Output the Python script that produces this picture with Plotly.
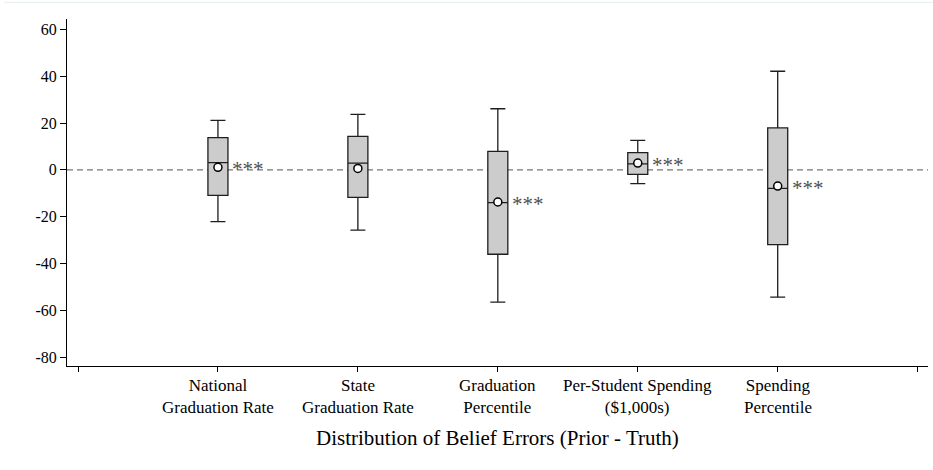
import plotly.graph_objects as go

categories = ["National<br>Graduation Rate", "State<br>Graduation Rate", "Graduation<br>Percentile",
              "Per-Student Spending<br>($1,000s)", "Spending<br>Percentile"]
positions = [1, 2, 3, 4, 5]
whisker_low = [-22.1, -25.7, -56.4, -5.9, -54.3]
q1 = [-10.9, -11.7, -36.0, -1.9, -31.9]
median = [3.1, 2.9, -14.0, 2.6, -7.9]
q3 = [13.8, 14.3, 7.9, 7.4, 17.9]
whisker_high = [21.1, 23.7, 26.1, 12.6, 42.1]
means = [1.1, 0.6, -13.7, 2.9, -6.9]
stars = ["***", "", "***", "***", "***"]

y_tickvals = [-80, -60, -40, -20, 0, 20, 40, 60]
y_ticktext = ["-80", "-60", "-40", "-20", "0", "20", "40", "60"]
x_title = "Distribution of Belief Errors (Prior - Truth)"

FONT = "Liberation Serif, Times New Roman, serif"
BOXW = 0.143

fig = go.Figure()
fig.add_trace(go.Box(
    x=positions, q1=q1, median=median, q3=q3,
    lowerfence=whisker_low, upperfence=whisker_high,
    width=BOXW, whiskerwidth=0.75, boxpoints=False,
    fillcolor="#cccccc", line=dict(color="#1e1e1e", width=1.3),
    showlegend=False, hoverinfo="skip",
))
fig.add_trace(go.Scatter(
    x=positions, y=means, mode="markers",
    marker=dict(symbol="circle", size=8, color="white", line=dict(color="black", width=1.5)),
    showlegend=False, hoverinfo="skip",
))

for p, m, s in zip(positions, means, stars):
    if s:
        fig.add_annotation(x=p + BOXW / 2, y=m, text=s, showarrow=False,
                           xanchor="left", yanchor="middle", xshift=2, yshift=-2,
                           font=dict(family=FONT, size=21, color="#505050"))

# category labels under the ticks
for p, lab in zip(positions, categories):
    fig.add_annotation(x=p, xref="x", y=0, yref="paper", text=lab, showarrow=False,
                       xanchor="center", yanchor="middle", yshift=-30, align="center",
                       font=dict(family=FONT, size=17, color="black"))

fig.add_annotation(x=0.5, xref="paper", y=0, yref="paper", text=x_title, showarrow=False,
                   xanchor="center", yanchor="middle", yshift=-72,
                   font=dict(family=FONT, size=21, color="black"))

fig.add_shape(type="line", xref="paper", yref="y", x0=0, x1=1, y0=0, y1=0,
              line=dict(color="#777777", width=1.2, dash="6px,4px"), layer="below")
fig.add_shape(type="line", xref="paper", yref="paper",
              x0=(4 - 67) / 861, x1=(933 - 67) / 861,
              y0=1 + (19 - 2.3) / 347, y1=1 + (19 - 2.3) / 347,
              line=dict(color="#e6eeec", width=1))

fig.update_layout(
    width=933, height=470,
    margin=dict(l=67, r=5, t=19, b=104),
    plot_bgcolor="white", paper_bgcolor="white",
    font=dict(family=FONT, size=16, color="black"),
)
fig.update_xaxes(
    range=[-0.0786, 6.074], tickvals=[0, 1, 2, 3, 4, 5, 6],
    ticktext=[""] * 7,
    ticks="outside", ticklen=5, tickcolor="black", tickwidth=1,
    showline=True, linecolor="black", linewidth=1,
    showgrid=False, zeroline=False,
)
fig.update_yaxes(
    range=[-83.7, 64.4], tickvals=y_tickvals, ticktext=y_ticktext,
    ticks="outside", ticklen=6, tickcolor="black", tickwidth=1,
    showline=True, linecolor="black", linewidth=1,
    showgrid=False, zeroline=False,
    tickfont=dict(family=FONT, size=16),
)

fig.write_html("out.html", config={"displayModeBar": False},
               post_script="document.body.style.margin='0';")
